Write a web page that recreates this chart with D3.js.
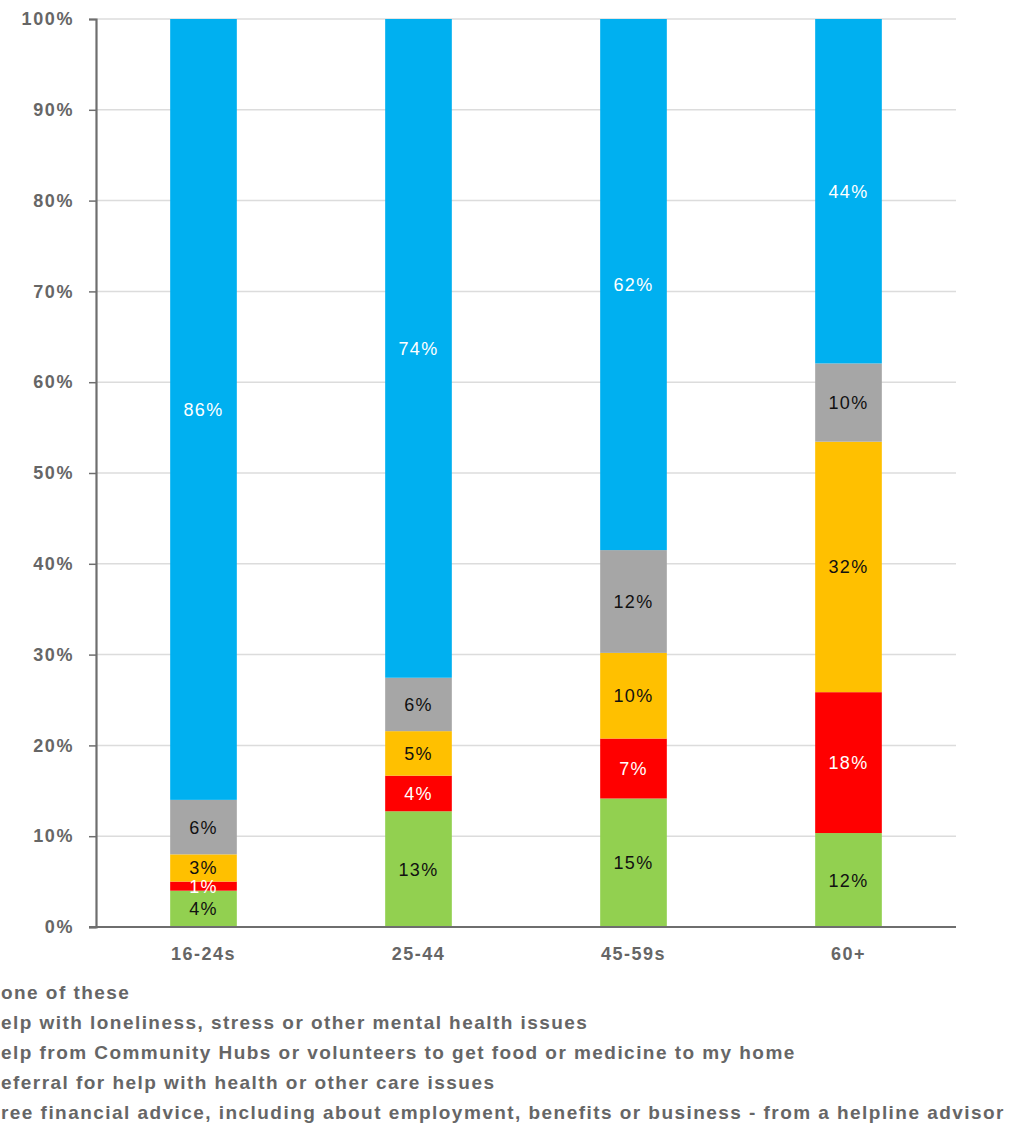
<!DOCTYPE html>
<html>
<head>
<meta charset="utf-8">
<script src="https://cdn.jsdelivr.net/npm/d3@7"></script>
<style>
  body { margin: 0; background: #fff; overflow: hidden; }
  svg { display: block; font-family: "Liberation Sans", Arial, sans-serif; }
</style>
</head>
<body>
<div id="chart"></div>
<script>
// age groups on the x axis
const ageGroups = ["16-24s", "25-44", "45-59s", "60+"];

// series, bottom of the stack first (values as labelled, chart stacks them to 100%)
const seriesNames = [
    "Free financial advice, including about employment, benefits or business - from a helpline advisor",
    "Referral for help with health or other care issues",
    "Help from Community Hubs or volunteers to get food or medicine to my home",
    "Help with loneliness, stress or other mental health issues",
    "None of these"
];
const financialAdvice = [4, 13, 15, 12];
const careReferral = [1, 4, 7, 18];
const communityHubs = [3, 5, 10, 32];
const loneliness = [6, 6, 12, 10];
const noneOfThese = [86, 74, 62, 44];

const seriesColors = ["#92D050", "#FF0000", "#FFC000", "#A6A6A6", "#00B0F0"];
const labelColors = ["#111", "#fff", "#111", "#111", "#fff"];

const yTicks = [0, 0.1, 0.2, 0.3, 0.4, 0.5, 0.6, 0.7, 0.8, 0.9, 1];

// legend order as it appears under the chart (top to bottom)
const legendOrder = [4, 3, 2, 1, 0];

function main(){
    const width = 1022, height = 1127;
    const margin = {left: 96, right: 66, top: 19, bottom: 200};

    const rows = ageGroups.map((g, i) => ({
        group: g,
        s0: financialAdvice[i], s1: careReferral[i], s2: communityHubs[i],
        s3: loneliness[i], s4: noneOfThese[i]
    }));
    const keys = ["s0", "s1", "s2", "s3", "s4"];

    const stacked = d3.stack()
        .keys(keys)
        .offset(d3.stackOffsetExpand)(rows);

    const svg = d3.select("#chart").append("svg")
        .attr("width", width)
        .attr("height", height);

    const x = d3.scaleBand()
        .domain(ageGroups)
        .range([margin.left, width - margin.right])
        .paddingInner(0.69)
        .paddingOuter(0.345);

    const y = d3.scaleLinear()
        .domain([0, 1])
        .range([height - margin.bottom, margin.top]);

    // gridlines
    svg.append("g")
        .selectAll("line")
        .data(yTicks.slice(1))
        .join("line")
        .attr("x1", margin.left)
        .attr("x2", width - margin.right)
        .attr("y1", d => y(d))
        .attr("y2", d => y(d))
        .attr("stroke", "#dcdcdc")
        .attr("stroke-width", 1.5);

    // bars
    const layer = svg.append("g")
        .selectAll("g")
        .data(stacked)
        .join("g")
        .attr("fill", (d, i) => seriesColors[i]);

    layer.selectAll("rect")
        .data(d => d)
        .join("rect")
        .attr("x", d => x(d.data.group))
        .attr("width", x.bandwidth())
        .attr("y", d => y(d[1]))
        .attr("height", d => y(d[0]) - y(d[1]));

    // value labels
    const labels = svg.append("g")
        .selectAll("g")
        .data(stacked)
        .join("g")
        .attr("fill", (d, i) => labelColors[i]);

    labels.selectAll("text")
        .data(d => d.map(v => ({v, key: d.key})))
        .join("text")
        .attr("x", d => x(d.v.data.group) + x.bandwidth() / 2)
        .attr("y", d => (y(d.v[0]) + y(d.v[1])) / 2)
        .attr("dy", "0.36em")
        .attr("text-anchor", "middle")
        .style("font-size", "18px")
        .style("letter-spacing", "1.3px")
        .text(d => d.v.data[d.key] + "%");

    // y axis
    const yAxis = d3.axisLeft(y)
        .tickValues(yTicks)
        .tickFormat(d => Math.round(d * 100) + "%")
        .tickSize(7)
        .tickPadding(15);

    const gy = svg.append("g")
        .attr("transform", `translate(${margin.left},0)`)
        .call(yAxis);
    gy.select(".domain").attr("stroke", "#6e6e6e").attr("stroke-width", 2.2);
    gy.selectAll(".tick line").attr("stroke", "#6e6e6e").attr("stroke-width", 1.5);
    gy.selectAll(".tick text")
        .attr("fill", "#666")
        .style("font-size", "18px")
        .style("font-weight", "bold")
        .style("letter-spacing", "1.6px");

    // x axis
    const xAxis = d3.axisBottom(x).tickSize(0).tickPadding(20);
    const gx = svg.append("g")
        .attr("transform", `translate(0,${height - margin.bottom})`)
        .call(xAxis);
    gx.select(".domain")
        .attr("d", `M${margin.left - 7},0H${width - margin.right}`)
        .attr("stroke", "#6e6e6e").attr("stroke-width", 2.2);
    gx.selectAll(".tick text")
        .attr("fill", "#666")
        .style("font-size", "18px")
        .style("font-weight", "bold")
        .style("letter-spacing", "1.5px");

    // legend (its swatches sit off the left edge, as in the original)
    const legend = svg.append("g");
    legendOrder.forEach((si, row) => {
        const t = legend.append("text")
            .attr("y", 992 + row * 30)
            .attr("dy", "0.36em")
            .attr("fill", "#666")
            .style("font-size", "19px")
            .style("font-weight", "bold")
            .style("letter-spacing", "1.45px")
            .text(seriesNames[si]);
        const first = t.node().getSubStringLength(0, 1);
        t.attr("x", -first + 1);
    });
}

main();
</script>
</body>
</html>
